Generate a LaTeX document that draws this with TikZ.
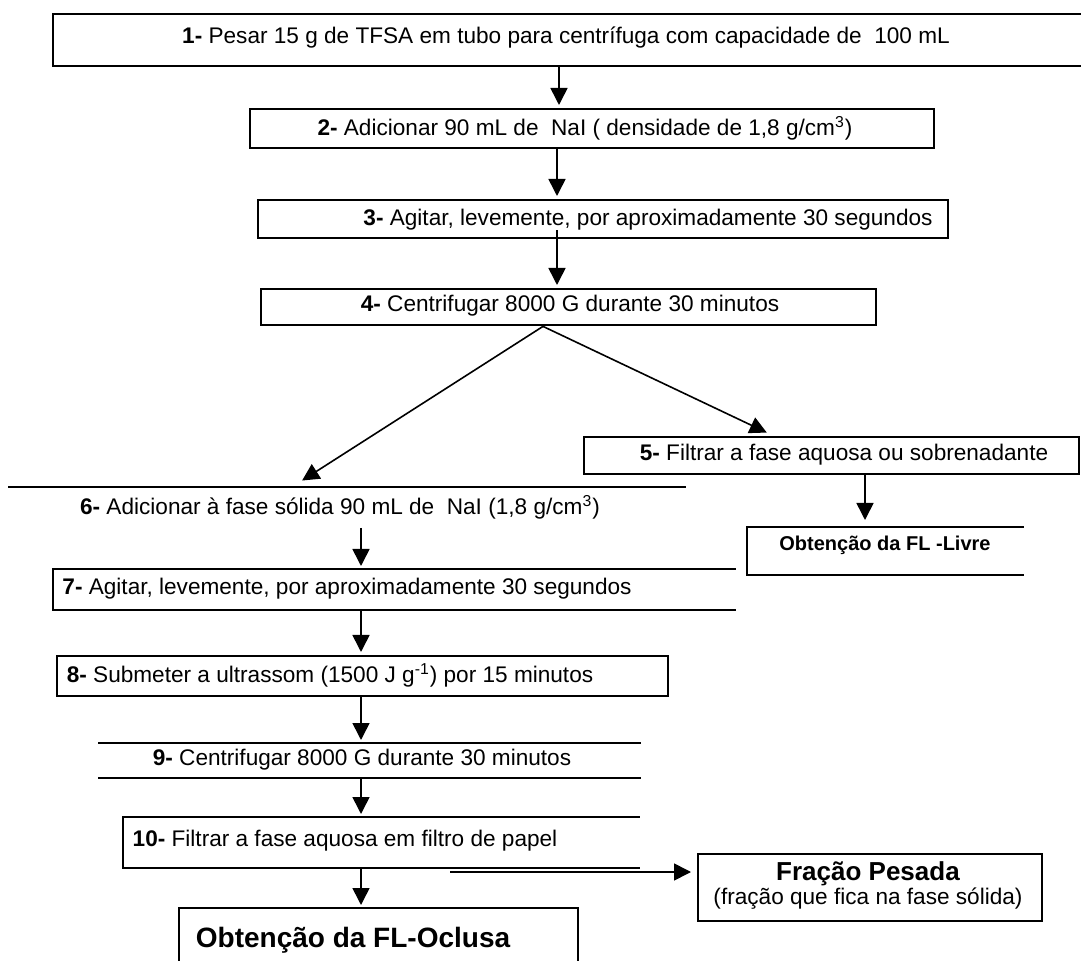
\documentclass[tikz,border=0pt]{standalone}
\usepackage{fontspec}
\setmainfont{Liberation Sans}
\usetikzlibrary{arrows.meta}

\tikzset{
 caixa/.style={draw, line width=1.2pt, inner sep=0pt, anchor=north west},
 aberta/.style={inner sep=0pt, anchor=north west},
 borda/.style={line width=1.2pt},
 texto/.style={inner sep=0pt, font=\fontsize{11.3}{13}\selectfont},
 seta/.style={line width=0.8pt, shorten >=1.5pt, -{Triangle[width=8.5pt,length=8.5pt]}},
}

\begin{document}
\begin{tikzpicture}[x=0.5pt,y=-0.5pt]
 \clip (0,0) rectangle (1081,961); %area da figura
 \fill[white] (0,0) rectangle (1081,961); %fundo
 % caixas
 \node[aberta, minimum width=520pt, minimum height=25.5pt] (c1) at (53,14) {}; %passo 1
 \node[caixa, minimum width=342pt, minimum height=19.5pt] (c2) at (249,108) {}; %passo 2
 \node[caixa, minimum width=345pt, minimum height=19pt] (c3) at (257,199) {}; %passo 3
 \node[caixa, minimum width=307.5pt, minimum height=18pt] (c4) at (260,288) {}; %passo 4
 \node[caixa, minimum width=247.5pt, minimum height=18.5pt] (c5) at (583,436) {}; %passo 5
 \node[aberta, minimum width=138pt, minimum height=23.5pt] (livre) at (747,527) {}; %FL-Livre
 \node[aberta, minimum width=338.5pt, minimum height=20pt] (c6) at (8,487) {}; %passo 6
 \node[aberta, minimum width=341pt, minimum height=20pt] (c7) at (53,569) {}; %passo 7
 \node[caixa, minimum width=305.5pt, minimum height=20pt] (c8) at (56,655) {}; %passo 8
 \node[aberta, minimum width=271pt, minimum height=17pt] (c9) at (98,743) {}; %passo 9
 \node[aberta, minimum width=258pt, minimum height=25pt] (c10) at (123,817) {}; %passo 10
 \node[caixa, minimum width=172pt, minimum height=33.5pt] (pesada) at (697,853) {}; %fracao pesada
 \node[aberta, minimum width=199pt, minimum height=30pt] (oclusa) at (179,908) {}; %FL-Oclusa
 % bordas abertas
 \draw[borda] (c1.north east) -- (c1.north west) -- (c1.south west) -- (c1.south east);
 \draw[borda] (livre.north east) -- (livre.north west) -- (livre.south west) -- (livre.south east);
 \draw[borda] (c6.north west) -- (c6.north east);
 \draw[borda] (c7.north east) -- (c7.north west) -- (c7.south west) -- (c7.south east);
 \draw[borda] (c9.north west) -- (c9.north east);
 \draw[borda] (c9.south west) -- (c9.south east);
 \draw[borda] (c10.north east) -- (c10.north west) -- (c10.south west) -- (c10.south east);
 \draw[borda] (oclusa.south west) -- (oclusa.north west) -- (oclusa.north east) -- (oclusa.south east);
 % textos
 \node[texto] (t1) at (566,38) {\textbf{1-} Pesar 15 g de TFSA em tubo para centrífuga com capacidade de\ \ 100 mL};
 \node[texto] (t2) at (585,128) {\textbf{2-} Adicionar 90 mL de\ \ NaI ( densidade de 1,8 g/cm\textsuperscript{3})};
 \node[texto] (t3) at (648,220) {\textbf{3-} Agitar, levemente, por aproximadamente 30 segundos};
 \node[texto] (t4) at (570,306) {\textbf{4-} Centrifugar 8000 G durante 30 minutos};
 \node[texto] (t5) at (844,455) {\textbf{5-} Filtrar a fase aquosa ou sobrenadante};
 \node[texto, font=\fontsize{10}{12}\selectfont\bfseries] (tl) at (885,545) {Obtenção da FL -Livre};
 \node[texto] (t6) at (340,507) {\textbf{6-} Adicionar à fase sólida 90 mL de\ \ NaI (1,8 g/cm\textsuperscript{3})};
 \node[texto] (t7) at (347,589) {\textbf{7-} Agitar, levemente, por aproximadamente 30 segundos};
 \node[texto] (t8) at (330,675) {\textbf{8-} Submeter a ultrassom (1500 J g\textsuperscript{-1}) por 15 minutos};
 \node[texto] (t9) at (362,760) {\textbf{9-} Centrifugar 8000 G durante 30 minutos};
 \node[texto] (t10) at (345,841) {\textbf{10-} Filtrar a fase aquosa em filtro de papel};
 \node[texto, font=\fontsize{13}{15}\selectfont\bfseries] (tp) at (868,874) {Fração Pesada};
 \node[texto] (tq) at (868,899) {(fração que fica na fase sólida)};
 \node[texto, font=\fontsize{14}{16}\selectfont\bfseries] (to) at (353,940) {Obtenção da FL-Oclusa};
 % setas
 \coordinate (x1) at (559,0); %seta 1
 \coordinate (x2) at (557,0); %setas 2 e 3
 \coordinate (x4) at (543,0); %saida das diagonais
 \coordinate (x5) at (774,0); %chegada em 5
 \coordinate (x6) at (292,0); %chegada em 6
 \coordinate (xl) at (865,0); %seta FL-Livre
 \coordinate (xc) at (361,0); %coluna da esquerda
 \coordinate (d10) at (450,872); %linha dupla
 \draw[seta] (x1 |- c1.south) -- (x1 |- c2.north);
 \draw[seta] (x2 |- c2.south) -- (x2 |- c3.north);
 \draw[seta, shorten <=-4.5pt] (x2 |- c3.south) -- (x2 |- c4.north);
 \draw[seta, shorten >=4pt] (x4 |- c4.south) -- (x5 |- c5.north);
 \draw[seta, shorten >=6pt] (x4 |- c4.south) -- (x6 |- c6.north);
 \draw[seta, shorten >=3.5pt] (xl |- c5.south) -- (xl |- livre.north);
 \draw[seta] (xc |- c6.south) -- (xc |- c7.north);
 \draw[seta] (xc |- c7.south) -- (xc |- c8.north);
 \draw[seta] (xc |- c8.south) -- (xc |- c9.north);
 \draw[seta] (xc |- c9.south) -- (xc |- c10.north);
 \draw[seta] (xc |- c10.south) -- (xc |- oclusa.north);
 \draw[seta, shorten >=3pt] (d10) -- (d10 -| pesada.west);
\end{tikzpicture}
\end{document}
